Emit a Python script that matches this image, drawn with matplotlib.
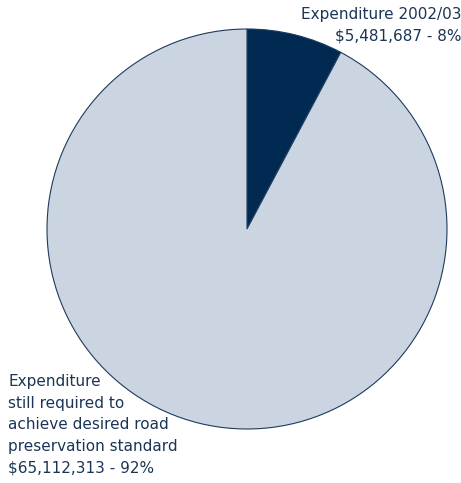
import matplotlib
matplotlib.use('Agg')
import matplotlib.pyplot as plt

labels = ["Expenditure 2002/03",
          "Expenditure\nstill required to\nachieve desired road\npreservation standard"]
amounts = [5481687, 65112313]
percents = [8, 92]
colors = ["#002a52", "#cbd5e2"]
text_color = "#1b3556"

plt.rcParams["font.family"] = ["DejaVu Sans"]

fig = plt.figure(figsize=(4.61, 4.83), dpi=100)
ax = fig.add_axes([47 / 461, 54 / 483, 400 / 461, 400 / 483])
ax.pie(amounts, colors=colors, startangle=90, counterclock=False,
       wedgeprops=dict(edgecolor="#1f3a5c", linewidth=0.8))
ax.set_xlim(-1.0, 1.0)
ax.set_ylim(-1.0, 1.0)
ax.set_aspect("equal")
ax.axis("off")

fs = 11
top = "%s\n$%s - %d%%" % (labels[0], format(amounts[0], ","), percents[0])
fig.text(461 / 461, 1 - 7 / 483, top.replace("$", r"\$"), ha="right", va="top",
         fontsize=fs, color=text_color, linespacing=1.55)

bottom = "%s\n$%s - %d%%" % (labels[1], format(amounts[1], ","), percents[1])
fig.text(8 / 461, 1 - 374 / 483, bottom.replace("$", r"\$"), ha="left", va="top",
         fontsize=fs, color=text_color, linespacing=1.55)

fig.savefig("out.png", dpi=100)
